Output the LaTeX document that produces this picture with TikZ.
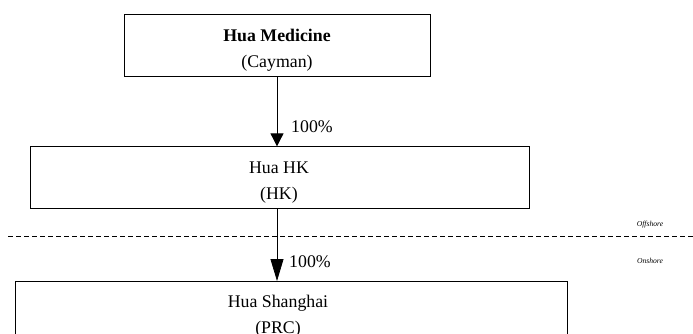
\documentclass[tikz,border=0pt]{standalone}
\usepackage{fontspec}
\setmainfont{Liberation Serif}
\usetikzlibrary{arrows.meta}
\begin{document}
\begin{tikzpicture}[x=1pt,y=-1pt,
    box/.style={draw, line width=0.8pt, rectangle, inner sep=0pt},
    txt/.style={align=center, inner sep=0pt, font=\fontsize{17.8}{26}\selectfont},
    pct/.style={anchor=west, inner sep=0pt, font=\fontsize{17.8}{20}\selectfont},
    side/.style={inner sep=0pt, font=\fontsize{7.6}{9}\selectfont\itshape},
    own/.style={line width=0.8pt, -{Triangle[length=13pt,width=13pt]}},
    ownlong/.style={line width=0.8pt, -{Triangle[length=22pt,width=13pt]}}]
    \useasboundingbox (0,0) rectangle (693,333);
    \clip (0,0) rectangle (693,333);

    \node[box, minimum width=306pt, minimum height=62pt] (hold) at (277,45) {};
    \node[box, minimum width=499pt, minimum height=61.5pt] (hk) at (279.5,177.5) {};
    \node[box, minimum width=552.5pt, minimum height=80pt, anchor=north west] (sh) at (14.5,281) {};

    \node[txt] (holdtxt) at (277,50) {\textbf{Hua Medicine}\\(Cayman)};
    \node[txt] (hktxt) at (279,182.5) {Hua HK\\(HK)};
    \node[txt] (shtxt) at (278,316) {Hua Shanghai\\(PRC)};

    \node[pct] (p1) at (291,127) {100\%};
    \node[pct] (p2) at (289,262) {100\%};

    \node[side] (off) at (650,225) {Offshore};
    \node[side] (on) at (650,261) {Onshore};

    \coordinate (dl) at (8,236);
    \coordinate (dr) at (693,236);
    \draw[line width=0.8pt, dash pattern=on 5pt off 3pt] (dl) -- (dr);

    \draw[own] (hold.south) -- (hold.south |- hk.north);
    \draw[ownlong] (hold.south |- hk.south) -- (hold.south |- sh.north);
\end{tikzpicture}
\end{document}
